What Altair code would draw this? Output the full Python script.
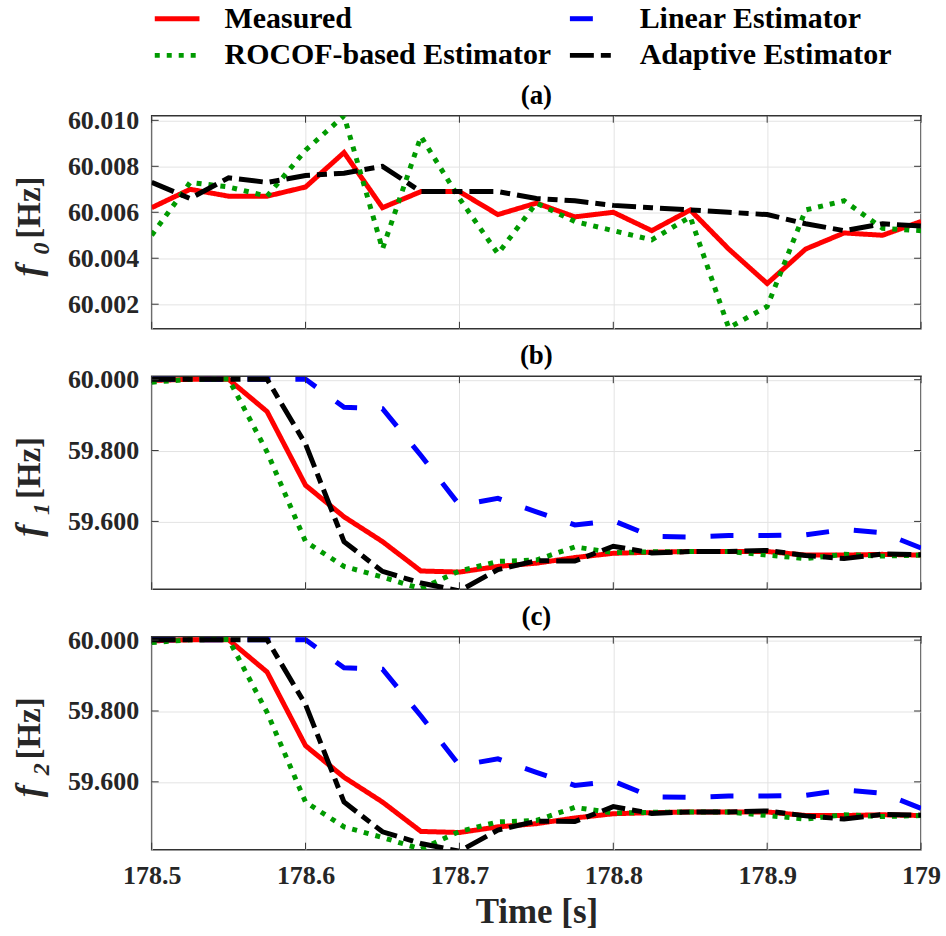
import altair as alt
import pandas as pd

# Sample instants (s), 25 ms apart
time_s = [178.5, 178.525, 178.55, 178.575, 178.6, 178.625, 178.65, 178.675, 178.7, 178.725,
          178.75, 178.775, 178.8, 178.825, 178.85, 178.875, 178.9, 178.925, 178.95, 178.975, 179.0]

# legend entries are laid out column by column: Measured / ROCOF, then Linear / Adaptive
series_names = ["Measured", "ROCOF-based Estimator", "Linear Estimator", "Adaptive Estimator"]
series_colors = ["#ff0000", "#009a00", "#0000ff", "#000000"]
series_dashes = [[1, 0], [5, 7], [23, 25], [24, 7, 10, 7]]

# f0 (Hz)
f0_measured = [60.0062, 60.0070, 60.0067, 60.0067, 60.0071, 60.0086, 60.0062, 60.0069, 60.0069, 60.0059,
               60.0064, 60.0058, 60.0060, 60.0052, 60.0061, 60.0044, 60.0029, 60.0044, 60.0051, 60.0050, 60.0056]
f0_rocof = [60.0050, 60.0073, 60.0071, 60.0067, 60.0087, 60.0102, 60.0044, 60.0093, 60.0066, 60.0042,
            60.0064, 60.0056, 60.0052, 60.0048, 60.0058, 60.00097, 60.0019, 60.0061, 60.0065, 60.0053, 60.0052]
f0_adaptive = [60.0073, 60.0066, 60.0075, 60.0073, 60.0076, 60.0077, 60.0080, 60.0069, 60.0069, 60.0069,
               60.0066, 60.0065, 60.0063, 60.0062, 60.0061, 60.0060, 60.0059, 60.0055, 60.0052, 60.0055, 60.0054]

# f1 (Hz)
f1_measured = [59.998, 60.001, 60.001, 59.910, 59.702, 59.613, 59.543, 59.460, 59.457, 59.473,
               59.482, 59.498, 59.510, 59.513, 59.515, 59.515, 59.515, 59.505, 59.505, 59.507, 59.505]
f1_linear = [60.001, 60.001, 60.001, 60.001, 60.001, 59.922, 59.918, 59.786, 59.646, 59.665,
             59.627, 59.590, 59.602, 59.558, 59.556, 59.560, 59.560, 59.562, 59.577, 59.568, 59.525]
f1_rocof = [59.993, 60.001, 60.002, 59.796, 59.543, 59.473, 59.443, 59.410, 59.460, 59.487,
            59.491, 59.528, 59.512, 59.514, 59.515, 59.515, 59.505, 59.495, 59.507, 59.502, 59.505]
f1_adaptive = [60.001, 60.001, 60.001, 60.001, 59.818, 59.543, 59.459, 59.426, 59.404, 59.464,
               59.489, 59.488, 59.530, 59.511, 59.515, 59.515, 59.518, 59.504, 59.495, 59.508, 59.506]

# f2 (Hz) follows f1 sample for sample
f2_measured = f1_measured
f2_linear = f1_linear
f2_rocof = f1_rocof
f2_adaptive = f1_adaptive

x_ticks = [178.5, 178.6, 178.7, 178.8, 178.9, 179.0]
f0_ticks = [60.002, 60.004, 60.006, 60.008, 60.010]
f1_ticks = [59.6, 59.8, 60.0]
f0_domain = [60.00093, 60.0102]
f1_domain = [59.4085, 60.0099]

FONT = "Liberation Serif"
TEXT = "#262626"
FRAME = "#333333"
W, H = 771, 213.5

color_scale = alt.Scale(domain=series_names, range=series_colors)
dash_scale = alt.Scale(domain=series_names, range=series_dashes)
x_scale = alt.Scale(domain=[178.5, 179.0], nice=False, zero=False)

# long horizontal stroke as legend swatch, kept compact in height
legend = alt.Legend(
    title=None, orient="none", legendX=9, legendY=-114, columns=2,
    labelFont=FONT, labelFontSize=30, labelFontWeight="bold", labelColor="#000000",
    symbolType="M-1.6,0H1.6", symbolSize=784, symbolStrokeWidth=5, symbolFillColor="transparent",
    labelOffset=31, columnPadding=8, rowPadding=5, padding=0, labelLimit=500,
)


def long_table(series_values):
    rows = []
    for name, vals in series_values:
        for t, v in zip(time_s, vals):
            rows.append({"t": t, "value": v, "series": name})
    return pd.DataFrame(rows)


def panel(series_values, y_domain, y_ticks, letter, sub, bottom, frame=False):
    df = long_table(series_values)
    y_scale = alt.Scale(domain=y_domain, nice=False, zero=False)
    x_axis = alt.Axis(values=x_ticks, format="~g", labels=bottom, labelFlush=False,
                      labelPadding=13, title="Time [s]" if bottom else "", titlePadding=6)
    y_axis = alt.Axis(values=y_ticks, format=".3f", labelFlush=False, labelPadding=13, title="")
    x_enc = alt.X("t:Q", scale=x_scale, axis=x_axis)
    y_enc = alt.Y("value:Q", scale=y_scale, axis=y_axis)

    layers = []
    for name, _ in series_values:
        layers.append(
            alt.Chart(df).transform_filter(alt.datum.series == name)
            .mark_line(strokeWidth=5, clip=True, strokeCap="butt")
            .encode(
                x=x_enc, y=y_enc,
                color=alt.Color("series:N", scale=color_scale, legend=legend),
                strokeDash=alt.StrokeDash("series:N", scale=dash_scale, legend=legend),
            )
        )

    # inward tick marks on all four sides of the box
    yt = pd.DataFrame({"value": y_ticks})
    xt = pd.DataFrame({"t": x_ticks})
    tick = dict(color=FRAME, strokeWidth=1)
    layers += [
        alt.Chart(yt).mark_rule(**tick).encode(y=y_enc, x=alt.value(0), x2=alt.value(7)),
        alt.Chart(yt).mark_rule(**tick).encode(y=y_enc, x=alt.value(W - 7), x2=alt.value(W)),
        alt.Chart(xt).mark_rule(**tick).encode(x=x_enc, y=alt.value(0), y2=alt.value(7)),
        alt.Chart(xt).mark_rule(**tick).encode(x=x_enc, y=alt.value(H - 7), y2=alt.value(H)),
    ]

    one = pd.DataFrame({"k": [0]})
    txt = dict(font=FONT, fontWeight="bold", color=TEXT, angle=270, align="center",
               baseline="alphabetic")
    layers += [
        # y title: italic f, subscript index, unit
        alt.Chart(one).mark_text(text="f", fontSize=36, fontStyle="italic", **txt)
        .encode(x=alt.value(-112), y=alt.value(155)),
        alt.Chart(one).mark_text(text=sub, fontSize=24, fontStyle="italic", **txt)
        .encode(x=alt.value(-103), y=alt.value(133)),
        alt.Chart(one).mark_text(text="[Hz]", fontSize=33, **txt)
        .encode(x=alt.value(-112), y=alt.value(92)),
        # panel letter
        alt.Chart(one).mark_text(text=letter, font=FONT, fontWeight="bold", fontSize=27,
                                 color="#000000", align="center", baseline="alphabetic")
        .encode(x=alt.value(W / 2), y=alt.value(-12)),
    ]
    if frame:
        # page extent, so the figure spans the whole canvas
        layers.append(
            alt.Chart(one).mark_rect(opacity=0)
            .encode(x=alt.value(-151), x2=alt.value(946 - 151),
                    y=alt.value(-114), y2=alt.value(936 - 114))
        )
    return alt.layer(*layers).properties(width=W, height=H)


pa = panel([("Measured", f0_measured), ("ROCOF-based Estimator", f0_rocof),
            ("Adaptive Estimator", f0_adaptive)],
           f0_domain, f0_ticks, "(a)", "0", False, frame=True)
pb = panel([("Measured", f1_measured), ("Linear Estimator", f1_linear),
            ("ROCOF-based Estimator", f1_rocof), ("Adaptive Estimator", f1_adaptive)],
           f1_domain, f1_ticks, "(b)", "1", False)
pc = panel([("Measured", f2_measured), ("Linear Estimator", f2_linear),
            ("ROCOF-based Estimator", f2_rocof), ("Adaptive Estimator", f2_adaptive)],
           f1_domain, f1_ticks, "(c)", "2", True)

chart = (
    alt.vconcat(pa, pb, pc, spacing=47, bounds="flush")
    .resolve_scale(y="independent", color="shared", strokeDash="shared")
    .resolve_legend(color="shared", strokeDash="shared")
    .properties(padding=0, background="white")
    .configure_view(stroke=FRAME, strokeWidth=1.5)
    .configure_axis(
        labelFont=FONT, labelFontSize=26, labelFontWeight="bold", labelColor=TEXT,
        titleFont=FONT, titleFontSize=35, titleFontWeight="bold", titleColor=TEXT,
        grid=True, gridColor="#e3e3e3", gridWidth=1, domain=False, ticks=False, tickSize=0,
    )
)

chart.save("out.html", embed_options={"renderer": "svg", "actions": False})
